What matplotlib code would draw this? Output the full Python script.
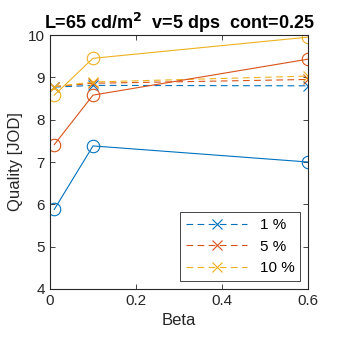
import matplotlib
matplotlib.use("Agg")
import matplotlib.pyplot as plt

plt.rcParams['font.family'] = ['Liberation Sans', 'DejaVu Sans']

beta = [0.01, 0.1, 0.6]
labels = ['1 %', '5 %', '10 %']
colors = ['#0072BD', '#D95319', '#EDB120']

# dashed series (with x markers, in legend)
dashed = [
    [8.77, 8.81, 8.80],
    [8.78, 8.86, 8.95],
    [8.78, 8.89, 9.03],
]
# solid series (open circles)
solid = [
    [5.88, 7.38, 7.00],
    [7.41, 8.58, 9.43],
    [8.58, 9.45, 9.95],
]

fig = plt.figure(figsize=(3.4, 3.4), dpi=100)
ax = fig.add_axes([0.147, 0.15, 0.759, 0.747])

handles = []
for vals, c, lab in zip(dashed, colors, labels):
    h, = ax.plot(beta, vals, linestyle=(0, (6, 4)), color=c, linewidth=0.8,
                 marker='x', markersize=7, markeredgewidth=0.8, label=lab)
    handles.append(h)
for vals, c in zip(solid, colors):
    ax.plot(beta, vals, linestyle='-', color=c, linewidth=0.8,
            marker='o', markersize=9, fillstyle='none', markeredgewidth=0.8)

ax.set_xlim(0, 0.6)
ax.set_ylim(4, 10)
ax.set_xticks([0, 0.2, 0.4, 0.6])
ax.set_xticklabels(['0', '0.2', '0.4', '0.6'])
ax.set_yticks([4, 5, 6, 7, 8, 9, 10])
ax.tick_params(direction='in', top=True, right=True, labelsize=11,
               colors='#262626', length=3.5, width=0.6)
for s in ax.spines.values():
    s.set_linewidth(0.8)
    s.set_color('#262626')

ax.set_xlabel('Beta', fontsize=12, color='#262626')
ax.set_ylabel('Quality [JOD]', fontsize=12, color='#262626')
ax.set_title('L=65 cd/m$^\\mathbf{2}$  v=5 dps  cont=0.25', fontsize=13,
             fontweight='bold', pad=4)

leg = ax.legend(handles=handles, loc='lower right', fontsize=11,
                handlelength=4, fancybox=False, edgecolor='#262626',
                framealpha=1, borderpad=0.4, labelspacing=0.5)
leg.get_frame().set_linewidth(0.6)

fig.savefig('out.png', dpi=100)
